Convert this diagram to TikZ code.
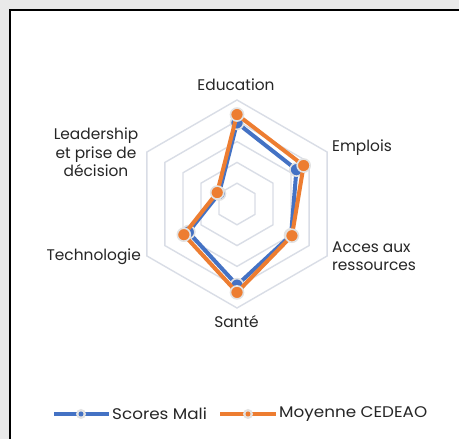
\documentclass[tikz,border=0pt]{standalone}
\usepackage{fontspec}
\setmainfont{Poppins}
\definecolor{mblue}{HTML}{4472C4}
\definecolor{morange}{HTML}{ED7D31}
\definecolor{gridc}{HTML}{D9DDE6}
\definecolor{bgc}{HTML}{E9E9E9}
\definecolor{mring}{HTML}{E2E2E2}
\definecolor{txt}{HTML}{262626}
\begin{document}
\begin{tikzpicture}[x=1pt,y=1pt,
 lab/.style={font=\fontsize{15.4}{18.5}\selectfont, text=txt, inner sep=0pt, align=center},
 leglab/.style={font=\fontsize{15.4}{18.5}\selectfont, text=txt, inner sep=0pt, anchor=west, xscale=1.09},
 gridline/.style={draw=gridc, line width=1.4pt},
 serie/.style={line width=4pt, line join=round},
 mk/.style={circle, minimum size=13pt, inner sep=0pt, draw=mring, line width=1.6pt},
 legmk/.style={circle, minimum size=10pt, inner sep=0pt, fill=mring},
 legdot/.style={circle, minimum size=5pt, inner sep=0pt}]
\useasboundingbox (0,0) rectangle (459,439);
\fill[bgc] (0,0) rectangle (459,439);
\fill[white] (10,0) rectangle (459,429);
\draw[line width=2pt] (10,0) -- (10,429) -- (459,429);
\begin{scope}[shift={(237,235)}]
\foreach \k in {1,...,5}{
  \draw[gridline] (90:\k*20.8) -- (30:\k*20.8) -- (-30:\k*20.8) -- (-90:\k*20.8) -- (-150:\k*20.8) -- (150:\k*20.8) -- cycle;
}
\coordinate (b1) at (90:3.9*20.8);
\coordinate (b2) at (30:3.3*20.8);
\coordinate (b3) at (-30:3.0*20.8);
\coordinate (b4) at (-90:3.9*20.8);
\coordinate (b5) at (-150:2.7*20.8);
\coordinate (b6) at (150:1.0*20.8);
\coordinate (o1) at (90:4.3*20.8);
\coordinate (o2) at (30:3.7*20.8);
\coordinate (o3) at (-30:3.05*20.8);
\coordinate (o4) at (-90:4.25*20.8);
\coordinate (o5) at (-150:2.95*20.8);
\coordinate (o6) at (150:1.1*20.8);
\end{scope}
\draw[serie, mblue] (b1) -- (b2) -- (b3) -- (b4) -- (b5) -- (b6) -- cycle;
\foreach \i in {1,...,6}{\node[mk, fill=mblue] (bm\i) at (b\i) {};}
\draw[serie, morange] (o1) -- (o2) -- (o3) -- (o4) -- (o5) -- (o6) -- cycle;
\foreach \i in {1,...,6}{\node[mk, fill=morange] (om\i) at (o\i) {};}
% axis labels
\node[lab] (l1) at (236,354) {Education};
\node[lab, anchor=west] (l2) at (332,291) {Emplois};
\node[lab, anchor=west, align=left] (l3) at (332,183) {Acces aux\\ressources};
\node[lab] (l4) at (236.5,117) {Santé};
\node[lab, anchor=east] (l5) at (141,182.3) {Technologie};
\node[lab] (l6) at (96,286.3) {Leadership\\et prise de\\décision};
% legend
\coordinate (la1) at (54,25);
\coordinate (la2) at (109,25);
\draw[line width=4pt, mblue] (la1) -- (la2);
\node[legmk] (lm1) at (81,25) {};
\node[legdot, fill=mblue] (ld1) at (lm1) {};
\node[leglab] (lt1) at (112,25) {Scores Mali};
\coordinate (lb1) at (220,25);
\coordinate (lb2) at (276,25);
\draw[line width=4pt, morange] (lb1) -- (lb2);
\node[legmk] (lm2) at (248,25) {};
\node[legdot, fill=morange] (ld2) at (lm2) {};
\node[leglab] (lt2) at (279,25) {Moyenne CEDEAO};
\end{tikzpicture}
\end{document}
